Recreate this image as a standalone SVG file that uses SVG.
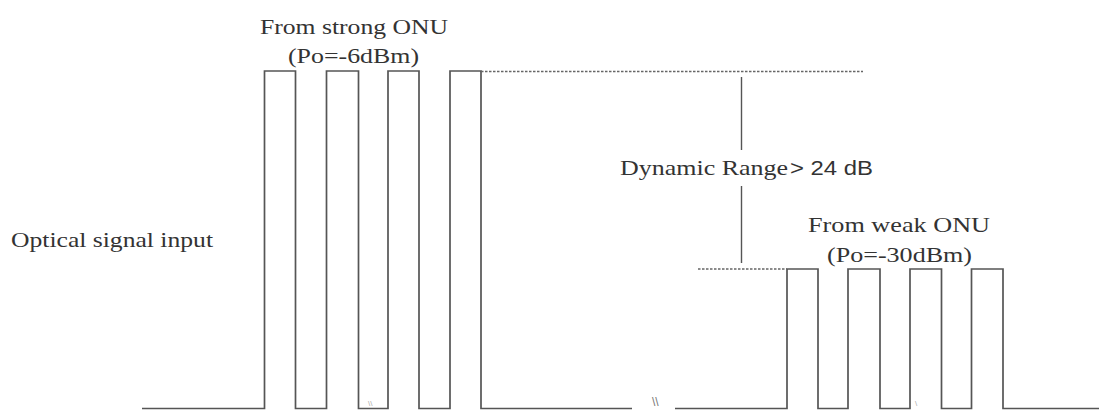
<svg xmlns="http://www.w3.org/2000/svg" width="1099" height="410" viewBox="0 0 1099 410">
<style>
.wave{fill:none;stroke:#555;stroke-width:1.7}
.dot{fill:none;stroke:#666;stroke-width:1.4;stroke-dasharray:2.5 1.5}
.dim{fill:none;stroke:#555;stroke-width:1.4}
.serif{font-family:"Liberation Serif","Times New Roman",serif;fill:#333;font-size:21px}
.sans{font-family:"Liberation Sans",Arial,sans-serif;fill:#333;font-size:21px}
.brk{font-family:"Liberation Sans",Arial,sans-serif;fill:#777;font-size:12px}
</style>
<rect width="1099" height="410" fill="#fff"/>
<g id="waveform">
<path class="wave" d="M142,408.5 H264.5 V71 H295.5 V408.5 H326.5 V71 H358.5 V408.5 H388 V71 H419 V408.5 H450 V71 H481 V408.5 H632"/>
<path class="wave" d="M675,408.5 H787 V269 H818 V408.5 H848 V269 H880 V408.5 H910 V269 H941.5 V408.5 H971.5 V269 H1003 V408.5 H1099"/>
<text class="brk" x="652" y="406">\\</text>
<text class="brk" x="368" y="406" style="font-size:8px;fill:#aaa">\\</text>
<text class="brk" x="915" y="406" style="font-size:8px;fill:#aaa">\</text>
</g>
<g id="dynamic-range">
<path class="dot" d="M481,71.5 H863"/>
<path class="dot" d="M698,269 H787"/>
<path class="dim" d="M741.5,77 V150 M741.5,186 V263"/>
<text class="serif" x="620" y="175" textLength="168" lengthAdjust="spacingAndGlyphs" style="font-size:22px">Dynamic Range</text>
<text class="sans" x="790" y="175" textLength="83" lengthAdjust="spacingAndGlyphs">&gt; 24 dB</text>
</g>
<g id="strong-label">
<text class="serif" x="260" y="34" textLength="188" lengthAdjust="spacingAndGlyphs">From strong ONU</text>
<text class="serif" x="288" y="63" textLength="131" lengthAdjust="spacingAndGlyphs">(Po=-6dBm)</text>
</g>
<g id="weak-label">
<text class="serif" x="808" y="232" textLength="182" lengthAdjust="spacingAndGlyphs">From weak ONU</text>
<text class="serif" x="827" y="262" textLength="145" lengthAdjust="spacingAndGlyphs">(Po=-30dBm)</text>
</g>
<g id="input-label">
<text class="serif" x="11" y="247" textLength="202" lengthAdjust="spacingAndGlyphs" style="font-size:22px">Optical signal input</text>
</g>
</svg>
